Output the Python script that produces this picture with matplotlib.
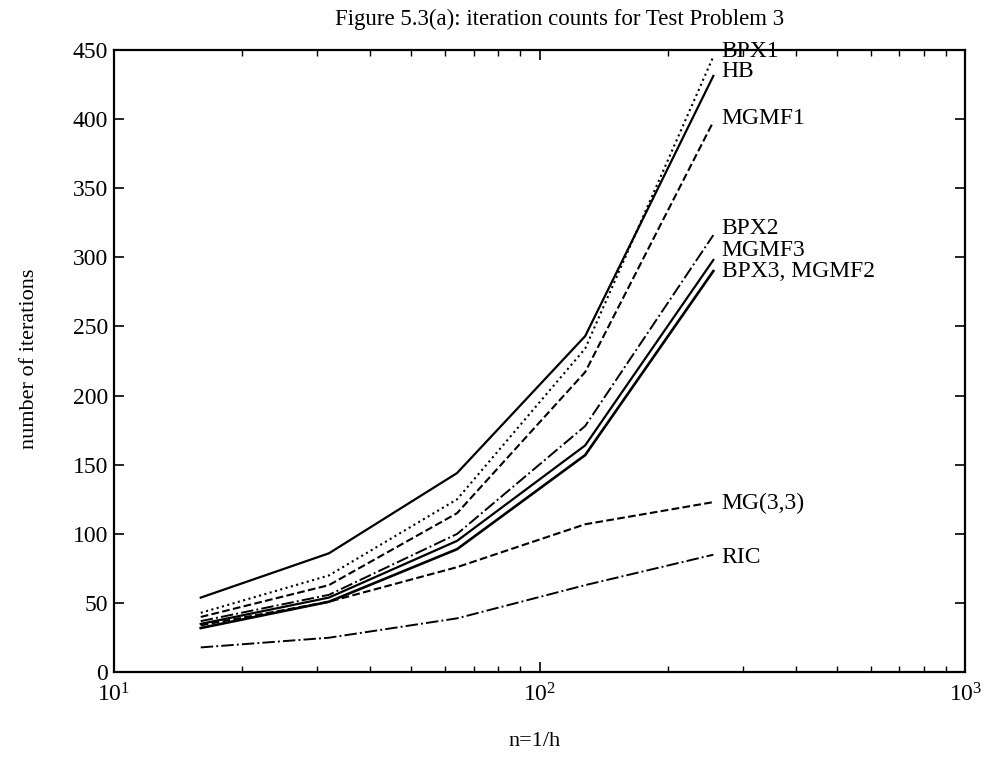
import numpy as np
import matplotlib.pyplot as plt

plt.rcParams['font.family'] = 'serif'
plt.rcParams['font.serif'] = ['Liberation Serif', 'DejaVu Serif']
plt.rcParams['mathtext.fontset'] = 'custom'
plt.rcParams['mathtext.rm'] = 'Liberation Serif'

# n = 1/h
n = [16, 32, 64, 128, 256]

# iteration counts
hb = [54, 86, 144, 243, 431]
bpx1 = [43, 70, 125, 234, 445]
mgmf1 = [40, 63, 115, 217, 398]
bpx2 = [37, 56, 100, 178, 316]
mgmf3 = [35, 54, 95, 164, 298]
bpx3 = [32, 51, 89, 157, 290]
mg33 = [34, 51, 76, 107, 123]
ric = [18, 25, 39, 63, 85]

label_text = ['BPX1', 'HB', 'MGMF1', 'BPX2', 'MGMF3', 'BPX3, MGMF2', 'MG(3,3)', 'RIC']
label_y = [449, 434, 400, 321, 305, 290, 122, 83]

fig, ax = plt.subplots(figsize=(9.9, 7.64), dpi=100)
fig.subplots_adjust(left=0.115, right=0.975, bottom=0.12, top=0.935)

ax.plot(n, hb, '-', color='k', lw=1.6)
ax.plot(n, bpx1, ':', color='k', lw=1.5)
ax.plot(n, mgmf1, '--', color='k', lw=1.5)
ax.plot(n, bpx2, '-.', color='k', lw=1.4)
ax.plot(n, mgmf3, '-', color='k', lw=1.6)
ax.plot(n, bpx3, '-', color='k', lw=1.9)
ax.plot(n, mg33, '--', color='k', lw=1.5)
ax.plot(n, ric, '-.', color='k', lw=1.4)

for t, yv in zip(label_text, label_y):
    ax.text(268, yv, t, fontsize=17, ha='left', va='center')

ax.set_xscale('log')
ax.set_xlim(10, 1000)
ax.set_ylim(0, 450)
ax.set_yticks(np.arange(0, 451, 50))
ax.tick_params(which='both', direction='in', top=True, right=True, labelsize=17)
ax.tick_params(which='major', length=7, width=1.2)
ax.tick_params(which='minor', length=4, width=1.0)
ax.tick_params(axis='x', pad=8)
ax.tick_params(axis='y', pad=4)
for s in ax.spines.values():
    s.set_linewidth(1.6)

fig.text(0.565, 0.975, 'Figure 5.3(a): iteration counts for Test Problem 3',
         ha='center', va='center', fontsize=16.5)
fig.text(0.54, 0.03, 'n=1/h', ha='center', va='center', fontsize=16)
fig.text(0.03, 0.53, 'number of iterations', ha='center', va='center',
         rotation=90, fontsize=16)

fig.savefig('out.png', dpi=100)
